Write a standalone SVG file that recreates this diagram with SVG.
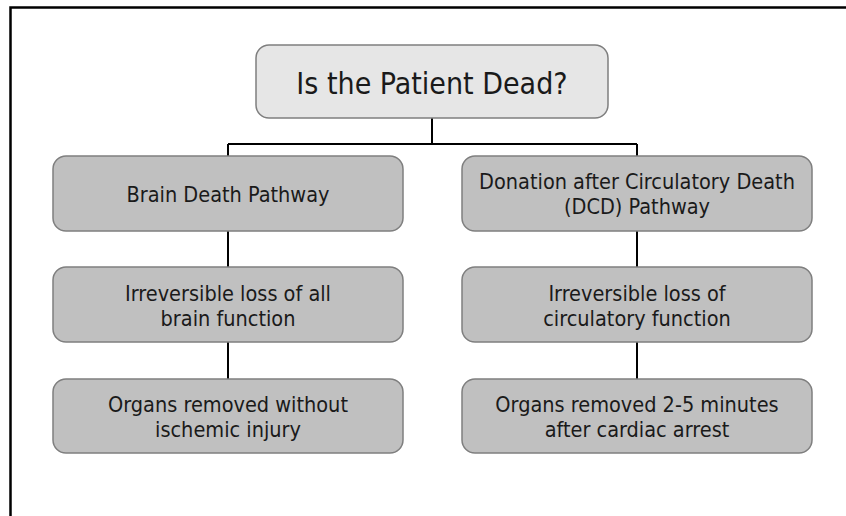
<svg xmlns="http://www.w3.org/2000/svg" width="846" height="516" viewBox="0 0 846 516">
<style>
.frame{fill:none;stroke:#000;stroke-width:2.5}
.top{fill:#e6e6e6;stroke:#7f7f7f;stroke-width:1.5}
.box{fill:#c0c0c0;stroke:#7f7f7f;stroke-width:1.5}
.conn{fill:none;stroke:#000;stroke-width:2}
text{font-family:"DejaVu Sans Condensed","DejaVu Sans",sans-serif;fill:#1a1a1a;text-anchor:middle}
.t1{font-size:30px}
.t2{font-size:21.5px}
</style>
<rect width="846" height="516" fill="#fff"/>
<path class="frame" d="M10.5,516 V7.5 H846"/>
<g id="connectors">
<path class="conn" d="M432,118 V144 M228,144 H637 M228,144 V156 M637,144 V156"/>
<path class="conn" d="M228,231 V267 M228,342 V379"/>
<path class="conn" d="M637,231 V267 M637,342 V379"/>
</g>
<g id="n-root"><rect class="top" x="256" y="45" width="352" height="73" rx="13"/><text class="t1" x="432" y="94">Is the Patient Dead?</text></g>
<g id="n-brain"><rect class="box" x="53" y="156" width="350" height="75" rx="13"/><text class="t2" x="228" y="202">Brain Death Pathway</text></g>
<g id="n-dcd"><rect class="box" x="462" y="156" width="350" height="75" rx="13"/><text class="t2" x="637" y="189">Donation after Circulatory Death</text><text class="t2" x="637" y="214">(DCD) Pathway</text></g>
<g id="n-brain-loss"><rect class="box" x="53" y="267" width="350" height="75" rx="13"/><text class="t2" x="228" y="301">Irreversible loss of all</text><text class="t2" x="228" y="326">brain function</text></g>
<g id="n-circ-loss"><rect class="box" x="462" y="267" width="350" height="75" rx="13"/><text class="t2" x="637" y="301">Irreversible loss of</text><text class="t2" x="637" y="326">circulatory function</text></g>
<g id="n-brain-organs"><rect class="box" x="53" y="379" width="350" height="74" rx="13"/><text class="t2" x="228" y="412">Organs removed without</text><text class="t2" x="228" y="437">ischemic injury</text></g>
<g id="n-dcd-organs"><rect class="box" x="462" y="379" width="350" height="74" rx="13"/><text class="t2" x="637" y="412">Organs removed 2-5 minutes</text><text class="t2" x="637" y="437">after cardiac arrest</text></g>
</svg>
